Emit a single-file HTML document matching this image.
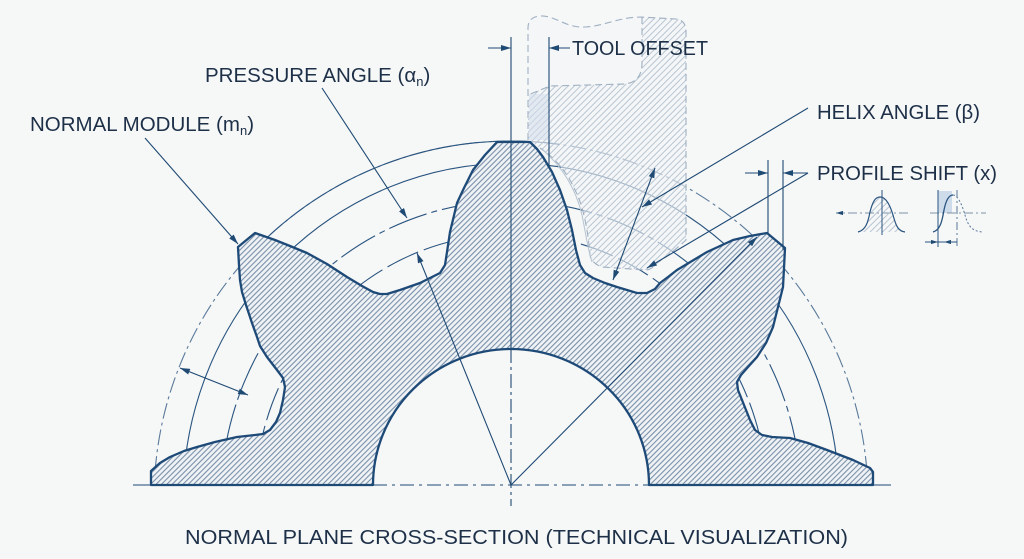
<!DOCTYPE html>
<html><head><meta charset="utf-8"><style>
html,body{margin:0;padding:0;background:#f6f7f7;}
svg{display:block;}
text{font-family:"Liberation Sans",Arial,sans-serif;fill:#1d3048;}
</style></head><body>
<svg width="1024" height="559" viewBox="0 0 1024 559" xmlns="http://www.w3.org/2000/svg">
<defs>
<pattern id="hg" patternUnits="userSpaceOnUse" width="3.8" height="3.8" patternTransform="rotate(45)">
<rect width="3.8" height="3.8" fill="#f0f3f6"/>
<line x1="0.6" y1="0" x2="0.6" y2="3.8" stroke="#6d86a0" stroke-width="1"/>
</pattern>
<pattern id="ht" patternUnits="userSpaceOnUse" width="4.4" height="4.4" patternTransform="rotate(45)">
<line x1="0.5" y1="0" x2="0.5" y2="4.4" stroke="#b3c1d0" stroke-width="0.9"/>
</pattern>
<marker id="ah" viewBox="0 0 10 6" refX="10" refY="3" markerWidth="10" markerHeight="6" markerUnits="userSpaceOnUse" orient="auto-start-reverse">
<path d="M0,0 L10,3 L0,6 z" fill="#1f4a74"/>
</marker>
<marker id="ahs" viewBox="0 0 10 6" refX="10" refY="3" markerWidth="7" markerHeight="4.2" markerUnits="userSpaceOnUse" orient="auto-start-reverse">
<path d="M0,0 L10,3 L0,6 z" fill="#1f4a74"/>
</marker>
<clipPath id="top"><rect x="0" y="0" width="1024" height="485"/></clipPath>
</defs>

<rect width="1024" height="559" fill="#f6f7f7"/>

<!-- gear hatched body -->
<path id="gear" d="M151,485 L151,471 L160,463 L170,457 L184,451 L197,447 L215,442 L237,437 L255,435 L263,434 L270,430 L276,422 L280,413 L283,400 L285,387 L283,378 L277,370 L267,357 L260,346 L257,337 L252,323 L246,305 L242,292 L240,280 L239,265 L238,247 L255,233 L275,240 L290,246 L307,253 L327,264 L347,277 L362,286 L373,292 L380,294 L387,294 L400,290 L420,283 L440,273 L445,265 L447,252 L450,232 L457,203 L464,188 L473,170 L485,155 L497,142 L530,142 L537,149 L543,157 L552,172 L560,190 L567,210 L572,230 L576,250 L580,265 L585,273 L593,278 L605,283 L617,287 L637,293 L647,293 L655,289 L660,283 L668,277 L677,270 L692,261 L707,252 L720,246 L733,240 L750,236 L767,233 L785,248 L784,268 L783,287 L778,307 L773,327 L766,343 L757,357 L748,367 L741,375 L737,382 L738,390 L744,405 L750,420 L755,430 L762,435 L772,437 L790,438 L808,443 L827,450 L853,460 L870,468 L873,472 L873,485 L649,485 A138 136 0 0 0 373,485 Z" fill="url(#hg)"/>

<!-- concentric arcs -->
<g clip-path="url(#top)" fill="none" stroke="#2a5580" stroke-width="1.1">
<path d="M154,499 A357 358 0 0 1 868,499" stroke="#5a7a9a" stroke-dasharray="16 4 3 4"/>
<path d="M250,254.7 A357 358 0 0 1 560,144.4" stroke="#2a5580"/>
<path d="M183,499 A328 336 0 0 1 839,499"/>
<path d="M221,499 A290 298 0 0 1 801,499" stroke-dasharray="40 5 6 5"/>
<path d="M255,499 A256 265 0 0 1 767,499" stroke-dasharray="34 6"/>
</g>

<!-- tool (ghost) -->
<path d="M528,140 L528,28 Q528,17 540,16 C555,15 565,28 585,27 C605,26 615,18 640,17 L676,19 Q686,20 686,32 L686,240 C675,250 665,258 657,263 Q652,270 645,270 L602,267 Q591,263 590,255 C588,230 583,205 575,190 C567,172 555,158 540,148 Z" fill="#f3f5f7" fill-opacity="0.6"/>
<path d="M528,95 L550,86 L625,84 Q642,82 642,63 L642,17 L676,19 Q686,20 686,32 L686,240 C675,250 665,258 657,263 Q652,270 645,270 L602,267 Q591,263 590,255 C588,230 583,205 575,190 C567,172 555,158 540,148 L528,140 Z" fill="url(#ht)"/>
<rect x="529" y="94" width="19" height="46" fill="#d3dfec" fill-opacity="0.55"/>
<g fill="none" stroke="#9fb0c2" stroke-width="1.1" stroke-dasharray="7 4">
<path d="M528,140 L528,28 Q528,17 540,16 C555,15 565,28 585,27 C605,26 615,18 640,17 L676,19 Q686,20 686,32 L686,240 C675,250 665,258 657,263 Q652,270 645,270 L602,267 Q591,263 590,255 C588,230 583,205 575,190 C567,172 555,158 540,148"/>
<path d="M642,17 L642,63 Q642,82 625,84 L550,86 L528,95"/>
</g>
<path d="M543,150 C560,165 575,185 582,215 C586,235 588,250 592,262" fill="none" stroke="#b5c3d1" stroke-width="1"/>

<!-- gear outline -->
<use href="#gear" fill="none" stroke="#1e4a78" stroke-width="2.3" stroke-linejoin="round"/>

<!-- centre lines -->
<g stroke="#1f4a74" stroke-width="1.1" fill="none">
<line x1="511" y1="37" x2="511" y2="349"/>
<line x1="511" y1="349" x2="511" y2="506" stroke-dasharray="14 4 3 4"/>
<line x1="133" y1="485" x2="373" y2="485"/>
<line x1="373" y1="485" x2="649" y2="485" stroke-dasharray="14 5 3 5"/>
<line x1="649" y1="485" x2="891" y2="485"/>
<line x1="549" y1="37" x2="549" y2="166"/>
<line x1="768" y1="160" x2="768" y2="234"/>
<line x1="783" y1="160" x2="783" y2="250"/>
</g>

<!-- leaders & arrows -->
<g stroke="#1f4a74" stroke-width="1.1" fill="none">
<line x1="145" y1="138" x2="238" y2="244" marker-end="url(#ah)"/>
<line x1="322" y1="88" x2="407" y2="218" marker-end="url(#ah)"/>
<line x1="808" y1="108" x2="642" y2="207" marker-end="url(#ah)"/>
<line x1="808" y1="173" x2="647" y2="268" marker-end="url(#ah)"/>
<line x1="655" y1="168" x2="613" y2="280" marker-start="url(#ah)" marker-end="url(#ah)"/>
<line x1="180" y1="368" x2="248" y2="395" marker-start="url(#ah)" marker-end="url(#ah)"/>
<line x1="511" y1="485" x2="417" y2="253" marker-end="url(#ah)"/>
<line x1="511" y1="485" x2="757" y2="237" marker-end="url(#ah)"/>
<line x1="488" y1="48" x2="511" y2="48" marker-end="url(#ah)"/>
<line x1="570" y1="48" x2="549" y2="48" marker-end="url(#ah)"/>
<line x1="745" y1="173" x2="768" y2="173" marker-end="url(#ah)"/>
<line x1="808" y1="173" x2="783" y2="173" marker-end="url(#ah)"/>
</g>

<!-- profile shift mini diagrams -->
<g fill="none" stroke-width="1">
<line x1="908" y1="213" x2="836" y2="213" stroke="#7d93a8" stroke-dasharray="9 3 2 3" marker-end="url(#ahs)"/>
<path d="M858,232 C866,230 868,222 870,212 C873,200 876,197 880,197 C886,197 890,205 893,215 C896,226 898,231 905,232" fill="url(#ht)" stroke="#2a5580" stroke-width="1.2"/>
<line x1="882" y1="190" x2="882" y2="235" stroke="#2a5580"/>
<rect x="938" y="191" width="14" height="22" fill="#cddbea" stroke="none"/>
<line x1="930" y1="213" x2="986" y2="213" stroke="#7d93a8" stroke-dasharray="9 3 2 3"/>
<line x1="938" y1="190" x2="938" y2="247" stroke="#2a5580"/>
<line x1="957" y1="190" x2="957" y2="247" stroke="#5a7a9a" stroke-dasharray="8 3 2 3"/>
<path d="M933,232 C940,230 942,222 944,210 C946,200 949,195 953,195" stroke="#2a5580" stroke-width="1.3"/>
<path d="M953,195 C958,195 962,205 965,215 C968,226 972,231 982,232" stroke="#5a7a9a" stroke-dasharray="2 2"/>
<line x1="925" y1="242" x2="938" y2="242" stroke="#2a5580" marker-end="url(#ahs)"/>
<line x1="957" y1="242" x2="944" y2="242" stroke="#2a5580" marker-end="url(#ahs)"/>
<line x1="938" y1="242" x2="957" y2="242" stroke="#2a5580"/>
</g>

<!-- labels -->
<text x="30" y="131" font-size="20.5">NORMAL MODULE (m<tspan font-size="13" dy="4">n</tspan><tspan dy="-4">)</tspan></text>
<text x="205" y="82" font-size="20.5">PRESSURE ANGLE (α<tspan font-size="13" dy="4">n</tspan><tspan dy="-4">)</tspan></text>
<text x="572" y="55" font-size="20" textLength="136" lengthAdjust="spacingAndGlyphs">TOOL OFFSET</text>
<text x="817" y="119" font-size="20" textLength="163" lengthAdjust="spacingAndGlyphs">HELIX ANGLE (β)</text>
<text x="817" y="180" font-size="20" textLength="180" lengthAdjust="spacingAndGlyphs">PROFILE SHIFT (x)</text>
<text x="185" y="544" font-size="20.5" textLength="663" lengthAdjust="spacingAndGlyphs">NORMAL PLANE CROSS-SECTION (TECHNICAL VISUALIZATION)</text>
</svg>
</body></html>
